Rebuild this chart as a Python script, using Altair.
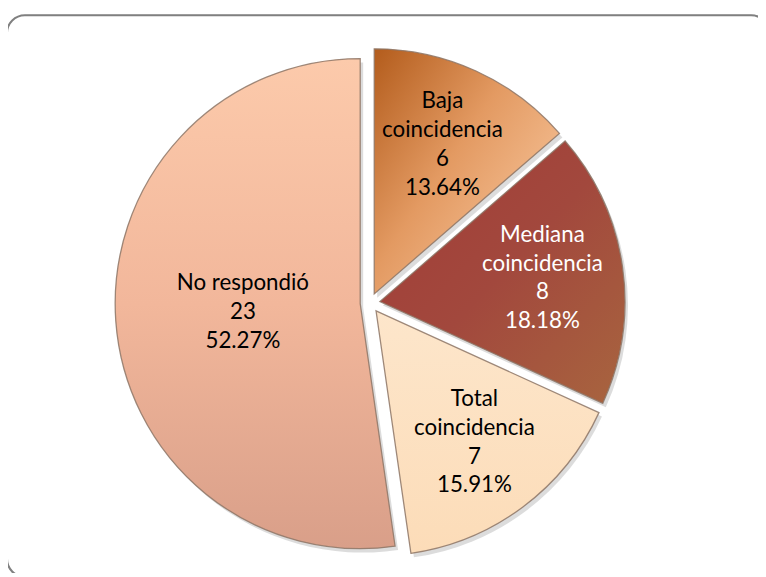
import altair as alt
import pandas as pd

# ---- data ----
categories = ["Baja coincidencia", "Mediana coincidencia", "Total coincidencia", "No respondió"]
label_names = ["Baja\ncoincidencia", "Mediana\ncoincidencia", "Total\ncoincidencia", "No respondió"]
counts = [6, 8, 7, 23]
percent_text = ["13.64%", "18.18%", "15.91%", "52.27%"]

# ---- styles ----
W, H = 756, 565
CX, CY = 365, 295          # pie centre (pixels)
R = 247                    # pie radius
EXPLODE = 10               # explosion distance
K_SMALL, K_BIG = 0.67, 0.48  # label radius fraction (small / >50% slices)
FONT = "Lato"
FONT_SIZE = 22.5
LINE_H = 29

fills = {
    "Baja coincidencia": alt.Gradient(
        gradient="linear", x1=0, y1=0, x2=1, y2=0.9,
        stops=[alt.GradientStop(color="#b35c1c", offset=0),
               alt.GradientStop(color="#e39a62", offset=0.45),
               alt.GradientStop(color="#fbcda6", offset=1)]),
    "Mediana coincidencia": alt.Gradient(
        gradient="linear", x1=0, y1=0, x2=1, y2=1,
        stops=[alt.GradientStop(color="#a23c37", offset=0),
               alt.GradientStop(color="#a2483d", offset=0.5),
               alt.GradientStop(color="#a8653f", offset=1)]),
    "Total coincidencia": alt.Gradient(
        gradient="linear", x1=0, y1=0, x2=0, y2=1,
        stops=[alt.GradientStop(color="#fde6cb", offset=0),
               alt.GradientStop(color="#fcdcb8", offset=1)]),
    "No respondió": alt.Gradient(
        gradient="linear", x1=0, y1=0, x2=0, y2=1,
        stops=[alt.GradientStop(color="#fccaab", offset=0),
               alt.GradientStop(color="#f2b79b", offset=0.5),
               alt.GradientStop(color="#d99f89", offset=1)]),
}

df = pd.DataFrame({
    "cat": categories,
    "name": label_names,
    "count": counts,
    "pct": percent_text,
    "order": list(range(len(categories))),
})
df["label"] = df["name"] + "\n" + df["count"].astype(str) + "\n" + df["pct"]

base = (
    alt.Chart(df)
    .transform_joinaggregate(total="sum(count)")
    .transform_window(cum="sum(count)", sort=[alt.SortField("order")], frame=[None, 0])
    .transform_calculate(a0="2*PI*(datum.cum - datum.count)/datum.total")
    .transform_calculate(a1="2*PI*datum.cum/datum.total")
    .transform_calculate(mid="(datum.a0 + datum.a1)/2")
    .transform_calculate(cx=f"{CX} + {EXPLODE}*sin(datum.mid)")
    .transform_calculate(cy=f"{CY} - {EXPLODE}*cos(datum.mid)")
    .transform_calculate(
        lr=f"{EXPLODE} + (datum.count/datum.total > 0.5 ? {K_BIG} : {K_SMALL})*{R}")
    .transform_calculate(nl="length(split(datum.label, '\\n'))")
    .transform_calculate(lx=f"{CX} + datum.lr*sin(datum.mid)")
    .transform_calculate(
        ly=f"{CY} - datum.lr*cos(datum.mid) - (datum.nl - 1)*{LINE_H}/2")
)

frame_df = pd.DataFrame({"a": [0]})
frame_shadow = alt.Chart(frame_df).mark_rect(
    cornerRadius=18, fill="white", stroke="#d0d0d0", strokeWidth=3
).encode(x=alt.value(1), x2=alt.value(769), y=alt.value(6), y2=alt.value(573))
frame = alt.Chart(frame_df).mark_rect(
    cornerRadius=18, fill="white", stroke="#808080", strokeWidth=2
).encode(x=alt.value(-1), x2=alt.value(767), y=alt.value(5), y2=alt.value(571))

shadow = base.mark_arc(outerRadius=R, fill="#9a9a9a", opacity=0.35).encode(
    x=alt.X("sx:Q", scale=None),
    y=alt.Y("sy:Q", scale=None),
    theta=alt.Theta("a0:Q", scale=None, stack=None),
    theta2="a1:Q",
).transform_calculate(sx="datum.cx + 3").transform_calculate(sy="datum.cy + 4")

arcs = []
for c in categories:
    arcs.append(
        base.transform_filter(alt.datum.cat == c)
        .mark_arc(outerRadius=R, fill=fills[c], stroke="#8d7566", strokeWidth=1.3,
                  strokeOpacity=0.85)
        .encode(
            x=alt.X("cx:Q", scale=None),
            y=alt.Y("cy:Q", scale=None),
            theta=alt.Theta("a0:Q", scale=None, stack=None),
            theta2="a1:Q",
        )
    )

labels = base.mark_text(
    lineBreak="\n", font=FONT, fontSize=FONT_SIZE, lineHeight=LINE_H,
    align="center", baseline="middle",
).encode(
    x=alt.X("lx:Q", scale=None),
    y=alt.Y("ly:Q", scale=None),
    text="label:N",
    color=alt.condition(alt.datum.cat == "Mediana coincidencia",
                        alt.value("white"), alt.value("black")),
)

chart = alt.layer(frame_shadow, frame, shadow, *arcs, labels).properties(
    width=W, height=H, autosize="none", padding=0,
).configure_view(stroke=None)

chart.save("out.html", embed_options={"renderer": "svg", "actions": False})
